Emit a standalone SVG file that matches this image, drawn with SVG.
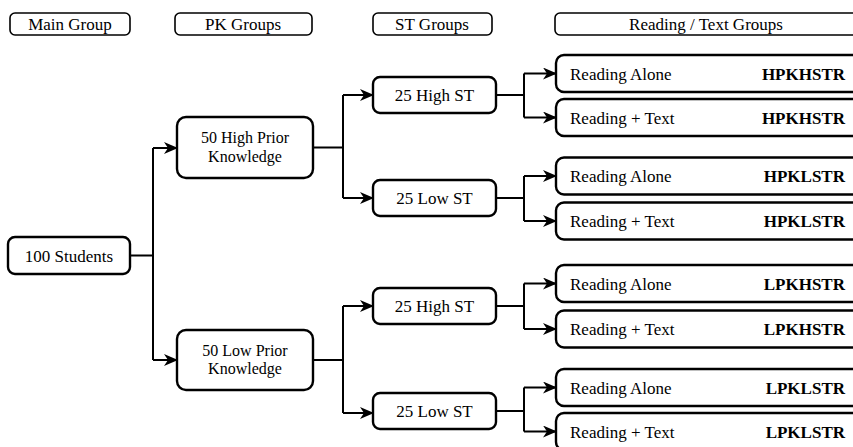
<svg xmlns="http://www.w3.org/2000/svg" width="853" height="447" viewBox="0 0 853 447">
<defs>
<marker id="ah" viewBox="0 0 14 12" refX="13" refY="6" markerWidth="14" markerHeight="12" markerUnits="userSpaceOnUse" orient="auto">
<path d="M0,0 L14,6 L0,12 L4,6 z" fill="#000"/>
</marker>
<style>
text{font-family:"Liberation Serif","Times New Roman",serif;font-size:17px;fill:#000}
.c{text-anchor:middle}
.two{font-size:16px}
.code{text-anchor:end;font-weight:bold}
.hdr{fill:#fff;stroke:#000;stroke-width:1.6}
.box{fill:#fff;stroke:#000;stroke-width:2.4}
.conn path{fill:none;stroke:#000;stroke-width:2}
.arr{marker-end:url(#ah)}
</style>
</defs>
<rect width="853" height="447" fill="#fff"/>

<g id="headers">
<g id="h-main"><rect class="hdr" x="10" y="13" width="120" height="22" rx="5"/><text class="c" x="70" y="30">Main Group</text></g>
<g id="h-pk"><rect class="hdr" x="175" y="13" width="137" height="22" rx="5"/><text class="c" x="243" y="30">PK Groups</text></g>
<g id="h-st"><rect class="hdr" x="373" y="13" width="119" height="22" rx="5"/><text class="c" x="432" y="30">ST Groups</text></g>
<g id="h-rt"><rect class="hdr" x="555" y="13" width="310" height="22" rx="5"/><text class="c" x="706" y="30">Reading / Text Groups</text></g>
</g>

<g class="conn" id="connectors">
<path d="M130,255.5 H153 M153,148 V360"/>
<path class="arr" d="M153,148 H177"/>
<path class="arr" d="M153,360 H177"/>
<path d="M313,147.5 H343 M343,95 V198"/>
<path class="arr" d="M343,95 H373"/>
<path class="arr" d="M343,198 H373"/>
<path d="M313,360 H343 M343,306 V413"/>
<path class="arr" d="M343,306 H373"/>
<path class="arr" d="M343,413 H373"/>
<path d="M496,95 H524 M524,73.5 V117.5"/>
<path class="arr" d="M524,73.5 H556"/>
<path class="arr" d="M524,117.5 H556"/>
<path d="M496,198 H524 M524,176 V221"/>
<path class="arr" d="M524,176 H556"/>
<path class="arr" d="M524,221 H556"/>
<path d="M496,306 H524 M524,283.5 V329"/>
<path class="arr" d="M524,283.5 H556"/>
<path class="arr" d="M524,329 H556"/>
<path d="M496,411 H524 M524,387.5 V431.5"/>
<path class="arr" d="M524,387.5 H556"/>
<path class="arr" d="M524,431.5 H556"/>
</g>

<g id="n-students"><rect class="box" x="8" y="237" width="122" height="37" rx="7"/><text class="c" x="69" y="261.5">100 Students</text></g>

<g id="n-hpk"><rect class="box" x="177" y="117" width="136" height="61" rx="9"/><text class="c two" x="245" y="143">50 High Prior</text><text class="c two" x="245" y="161.5">Knowledge</text></g>
<g id="n-lpk"><rect class="box" x="177" y="330" width="136" height="60" rx="9"/><text class="c two" x="245" y="355.5">50 Low Prior</text><text class="c two" x="245" y="374">Knowledge</text></g>

<g id="n-hpk-hst"><rect class="box" x="373" y="77" width="123" height="36" rx="7"/><text class="c" x="434.5" y="101">25 High ST</text></g>
<g id="n-hpk-lst"><rect class="box" x="373" y="180" width="123" height="36" rx="7"/><text class="c" x="434.5" y="204">25 Low ST</text></g>
<g id="n-lpk-hst"><rect class="box" x="373" y="288" width="123" height="36" rx="7"/><text class="c" x="434.5" y="312">25 High ST</text></g>
<g id="n-lpk-lst"><rect class="box" x="373" y="393" width="123" height="36" rx="7"/><text class="c" x="434.5" y="417">25 Low ST</text></g>

<g id="r1"><rect class="box" x="556" y="55" width="310" height="37" rx="8"/><text x="570" y="79.5">Reading Alone</text><text class="code" x="845" y="79.5">HPKHSTR</text></g>
<g id="r2"><rect class="box" x="556" y="99" width="310" height="37" rx="8"/><text x="570" y="123.5">Reading + Text</text><text class="code" x="845" y="123.5">HPKHSTR</text></g>
<g id="r3"><rect class="box" x="556" y="157.5" width="310" height="37" rx="8"/><text x="570" y="182">Reading Alone</text><text class="code" x="845" y="182">HPKLSTR</text></g>
<g id="r4"><rect class="box" x="556" y="202.5" width="310" height="37" rx="8"/><text x="570" y="227">Reading + Text</text><text class="code" x="845" y="227">HPKLSTR</text></g>
<g id="r5"><rect class="box" x="556" y="265" width="310" height="37" rx="8"/><text x="570" y="289.5">Reading Alone</text><text class="code" x="845" y="289.5">LPKHSTR</text></g>
<g id="r6"><rect class="box" x="556" y="310.5" width="310" height="37" rx="8"/><text x="570" y="335">Reading + Text</text><text class="code" x="845" y="335">LPKHSTR</text></g>
<g id="r7"><rect class="box" x="556" y="369" width="310" height="37" rx="8"/><text x="570" y="393.5">Reading Alone</text><text class="code" x="845" y="393.5">LPKLSTR</text></g>
<g id="r8"><rect class="box" x="556" y="413" width="310" height="37" rx="8"/><text x="570" y="437.5">Reading + Text</text><text class="code" x="845" y="437.5">LPKLSTR</text></g>
</svg>
